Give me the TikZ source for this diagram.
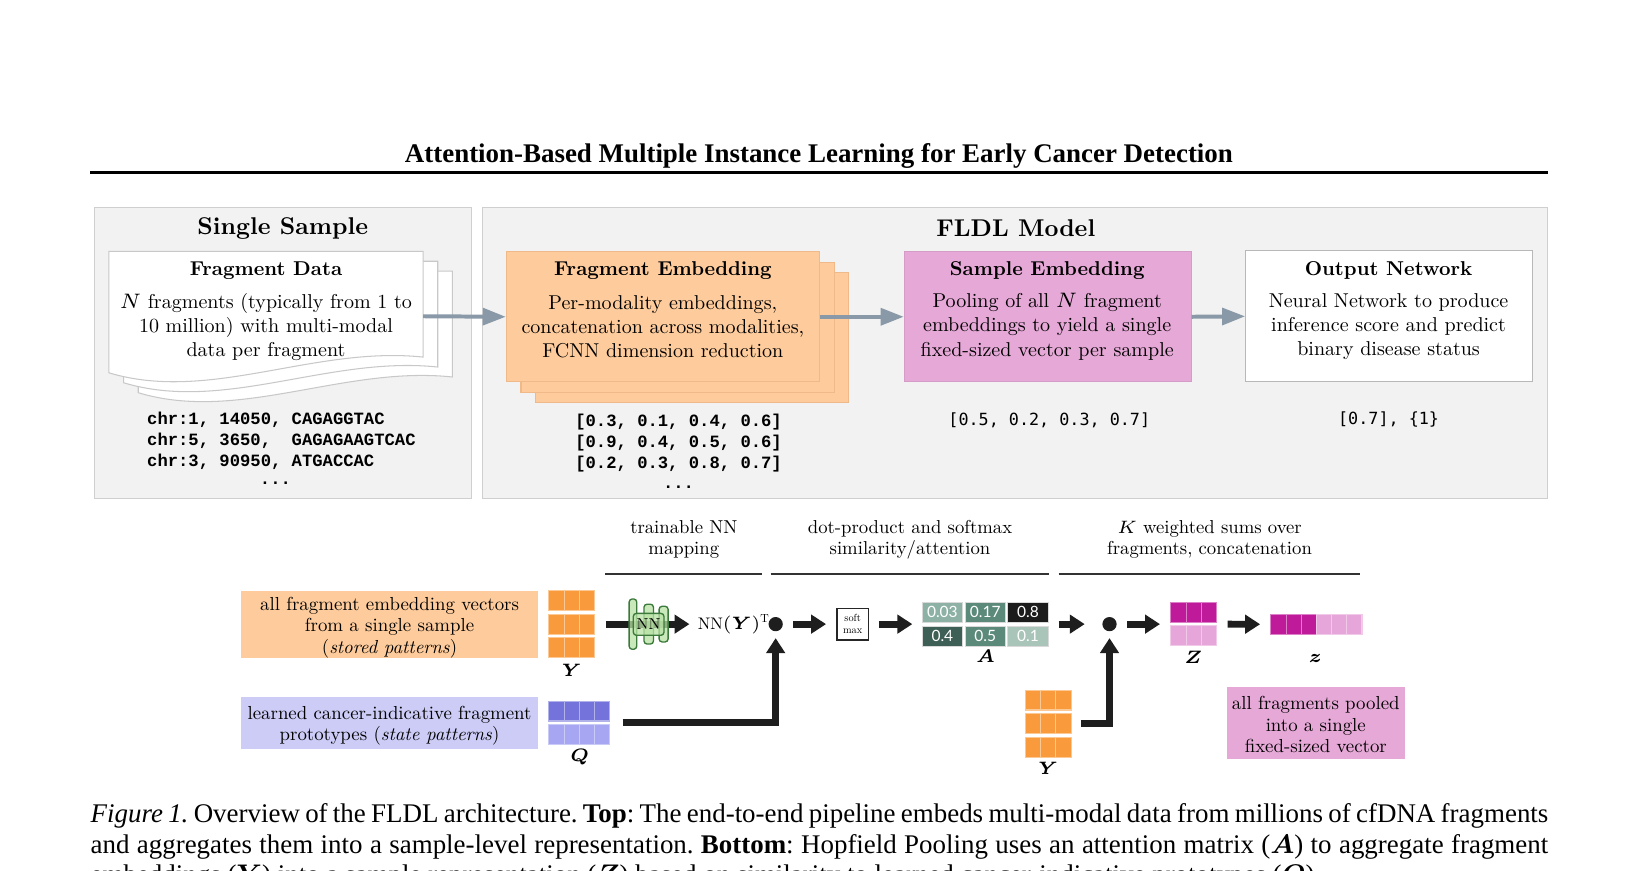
\documentclass[tikz,border=0pt]{standalone}
\usepackage{amsmath}
\usepackage{fontspec}
\usepackage{xcolor}
\usetikzlibrary{arrows.meta}

\setmainfont{lmroman10-regular.otf}[BoldFont=lmroman10-bold.otf, ItalicFont=lmroman10-italic.otf,
  BoldItalicFont=lmroman10-bolditalic.otf]
\newfontfamily\capfont{Liberation Serif}
\newfontfamily\chrfont{Liberation Mono}
\newfontfamily\vecfont{DejaVu Sans Mono}
\newfontfamily\numfont{Lato}

\definecolor{panelfill}{HTML}{F2F2F2}
\definecolor{panelline}{HTML}{CFCFCF}
\definecolor{pageline}{HTML}{C8C8C8}
\definecolor{embfill}{HTML}{FECC9C}
\definecolor{embline}{HTML}{F0B98A}
\definecolor{poolfill}{HTML}{E6A8D7}
\definecolor{poolline}{HTML}{D49CC7}
\definecolor{netline}{HTML}{B8B8B8}
\definecolor{lavfill}{HTML}{CCCCF7}
\definecolor{ycol}{HTML}{F99B3C}
\definecolor{qdark}{HTML}{7373DB}
\definecolor{qlight}{HTML}{A6A6F2}
\definecolor{zdark}{HTML}{BF1A99}
\definecolor{zlight}{HTML}{E6A6D9}
\definecolor{nngreen}{HTML}{B8E2A5}
\definecolor{nnline}{HTML}{3C7A3C}
\definecolor{arrowgray}{HTML}{8A99A8}
\definecolor{flowblack}{HTML}{1E1E1E}
\definecolor{attA}{HTML}{8DB2A5}
\definecolor{attB}{HTML}{5B897A}
\definecolor{attC}{HTML}{1C1C1C}
\definecolor{attD}{HTML}{3E5F55}
\definecolor{attE}{HTML}{A9C4B9}

\tikzset{
  panel/.style={draw=panelline, fill=panelfill, line width=0.4pt},
  paneltitle/.style={font=\fontsize{8.1}{9.7}\selectfont\bfseries, inner sep=0pt},
  page/.style={draw=pageline, fill=white, line width=0.35pt},
  embbox/.style={draw=embline, fill=embfill, line width=0.35pt, anchor=north west,
    minimum width=104.65pt, minimum height=43.4pt, inner sep=0pt},
  poolbox/.style={draw=poolline, fill=poolfill, line width=0.35pt, anchor=north west,
    minimum width=95.9pt, minimum height=43.4pt, inner sep=0pt},
  netbox/.style={draw=netline, fill=white, line width=0.4pt, anchor=north west,
    minimum width=95.9pt, minimum height=43.75pt, inner sep=0pt},
  boxtitle/.style={font=\fontsize{6.7}{8}\selectfont\bfseries, inner sep=0pt},
  boxtext/.style={font=\fontsize{6.7}{8.05}\selectfont, align=center, inner sep=0pt},
  chrtext/.style={font=\chrfont\bfseries\fontsize{5.75}{7}\selectfont, inner sep=0pt},
  vectext/.style={font=\vecfont\fontsize{5.6}{7}\selectfont, inner sep=0pt},
  greyarrow/.style={draw=arrowgray, line width=1.33pt, -{Triangle[length=7.7pt,width=5.6pt]}},
  headtext/.style={font=\fontsize{6.25}{7}\selectfont, align=center, inner sep=0pt},
  headrule/.style={draw=black!80, line width=0.5pt},
  labelbox/.style={inner sep=0pt, minimum width=99.4pt},
  labeltext/.style={font=\fontsize{6.3}{7.2}\selectfont, align=center, inner sep=0pt},
  matname/.style={font=\fontsize{6.3}{7}\selectfont, inner sep=0pt},
  matbox/.style={inner sep=0pt},
  ycell/.style={fill=ycol, draw=ycol!55!white, line width=0.35pt},
  qdcell/.style={fill=qdark, draw=qdark!55!white, line width=0.35pt},
  qlcell/.style={fill=qlight, draw=qlight!60!white, line width=0.35pt},
  zdcell/.style={fill=zdark, draw=zdark!55!white, line width=0.35pt},
  zlcell/.style={fill=zlight, draw=zlight!60!white, line width=0.35pt},
  attcell/.style={draw=white!85!black, line width=0.3pt},
  numtext/.style={font=\numfont\fontsize{5.2}{6}\selectfont, text=white, inner sep=0pt},
  flow/.style={draw=flowblack, line width=2.3pt, -{Triangle[length=5pt,width=6.1pt]}},
  joint/.style={circle, fill=flowblack, minimum size=4.76pt, inner sep=0pt},
  nnbar/.style={fill=nngreen, fill opacity=0.75, draw=nnline, line width=0.45pt, rounded corners=1pt},
  nnbox/.style={fill=nngreen, fill opacity=0.75, text opacity=1, draw=nnline, line width=0.45pt,
    rounded corners=1pt, minimum width=10.25pt, minimum height=7.3pt, inner sep=0pt,
    font=\fontsize{5.3}{6}\selectfont},
  softbox/.style={draw=black!85, line width=0.55pt, fill=white, minimum width=10.6pt, minimum height=10.5pt,
    inner sep=0pt, align=center, font=\fontsize{3.45}{4.1}\selectfont},
  captext/.style={font=\capfont\fontsize{9}{10.15}\selectfont\frenchspacing, text width=487.2pt,
    align=justify, inner sep=0pt}
}

\begin{document}
\begin{tikzpicture}[x=0.35pt,y=-0.35pt]
    \path[fill=white,use as bounding box] (0,0) rectangle (1568,831.7);

    % Running head
    \node[font=\capfont\bfseries\fontsize{9}{11}\selectfont, anchor=base, inner sep=0pt] (head) at (782,155)
      {Attention-Based Multiple Instance Learning for Early Cancer Detection};
    \draw[line width=0.9pt] (86,164.5) -- (1478,164.5);

    % Panels
    \draw[panel] (90,198) rectangle (450,476);
    \draw[panel] (461,198) rectangle (1478,476);
    \node[paneltitle] (single) at (270,218) {Single Sample};
    \node[paneltitle] (fldl) at (970,218) {FLDL Model};

    % Fragment data (stack of pages)
    \foreach \d in {2,1} {
      \draw[page, shift={(14*\d,9.5*\d)}] (104,240) -- (404,240) -- (404,341)
        .. controls (300,330) and (200,385) .. (104,356) -- cycle;
    }
    \draw[page] (104,240) -- (404,240) -- (404,341)
      .. controls (300,330) and (200,385) .. (104,356) -- cycle;
    \coordinate (fdout) at (404,302);
    \node[boxtitle] (fdtitle) at (254,258) {Fragment Data};
    \node[boxtext] (fdtext) at (254,312)
      {$N$ fragments (typically from 1 to\\10 million) with multi-modal\\data per fragment};

    % Fragment embedding (stack of boxes)
    \node[embbox] (fe3) at (511,260) {};
    \node[embbox] (fe2) at (497,250) {};
    \node[embbox] (fe) at (483,240) {};
    \node[boxtitle] (fetitle) at (633,258) {Fragment Embedding};
    \node[boxtext] (fetext) at (633,312)
      {Per-modality embeddings,\\concatenation across modalities,\\FCNN dimension reduction};

    % Sample embedding and output network
    \node[poolbox] (se) at (863,240) {};
    \node[boxtitle] (setitle) at (1000,258) {Sample Embedding};
    \node[boxtext] (setext) at (1000,312)
      {Pooling of all $N$ fragment\\embeddings to yield a single\\fixed-sized vector per sample};
    \node[netbox] (on) at (1189,239) {};
    \node[boxtitle] (ontitle) at (1326,258) {Output Network};
    \node[boxtext] (ontext) at (1326,312)
      {Neural Network to produce\\inference score and predict\\binary disease status};

    % Top arrows
    \draw[greyarrow] (fdout) -- (fe.west);
    \draw[greyarrow] (fe.east) -- (se.west);
    \draw[greyarrow] (se.east) -- (on.west);

    % Example data
    \node[chrtext, anchor=west, align=left] (chr) at (140,421)
      {chr:1, 14050, CAGAGGTAC\\chr:5, 3650,\ \ GAGAGAAGTCAC\\chr:3, 90950, ATGACCAC};
    \node[chrtext] (chrdots) at (263,461) {...};
    \node[chrtext, align=center] (emb) at (648,431)
      {{[}0.3, 0.1, 0.4, 0.6{]}\\{[}0.9, 0.4, 0.5, 0.6{]}\\{[}0.2, 0.3, 0.8, 0.7{]}\\...};
    \node[vectext] (pool) at (1002,401) {{[}0.5, 0.2, 0.3, 0.7{]}};
    \node[vectext] (score) at (1326,401) {{[}0.7{]}, \{1\}};

    % Step headings
    \node[headtext] (h1) at (653,515) {trainable NN\\mapping};
    \node[headtext] (h2) at (869,515) {dot-product and softmax\\similarity/attention};
    \node[headtext] (h3) at (1155,515) {$K$ weighted sums over\\fragments, concatenation};
    \draw[headrule] (578,548) -- (728,548);
    \draw[headrule] (736,548) -- (1002,548);
    \draw[headrule] (1011,548) -- (1299,548);

    % Input descriptions
    \node[labelbox, fill=embfill, minimum height=22.4pt] (ylab) at (372,596) {};
    \node[labeltext] (ylabtext) at (372,599)
      {all fragment embedding vectors\\from a single sample\\(\textit{stored patterns})};
    \node[labelbox, fill=lavfill, minimum height=17.15pt] (qlab) at (372,690.5) {};
    \node[labeltext] (qlabtext) at (372,693)
      {learned cancer-indicative fragment\\prototypes (\textit{state patterns})};

    % Y and Q
    \node[matbox, minimum width=15.4pt, minimum height=22.4pt] (ymat) at (546,596) {};
    \foreach \r in {0,1,2}
      \foreach \c in {0,1,2}
        \draw[ycell] ({524+14.6*\c},{564+22.5*\r}) rectangle ++(14.6,19);
    \node[matname] (yname) at (546,640) {$\boldsymbol{Y}$};
    \node[matbox, minimum width=20.65pt, minimum height=14.4pt] (qmat) at (553.5,690) {};
    \foreach \c in {0,...,3} {
      \draw[qdcell] ({524+14.6*\c},669.5) rectangle ++(14.6,19);
      \draw[qlcell] ({524+14.6*\c},691.7) rectangle ++(14.6,19);
    }
    \node[matname] (qname) at (553.5,722.7) {$\boldsymbol{Q}$};

    % NN mapping
    \node[inner sep=2.6pt, font=\fontsize{5.6}{6}\selectfont] (nny) at (701,596)
      {$\mathrm{NN}(\boldsymbol{Y})^{\mathrm{T}}$};
    \draw[flow, shorten <=3.5pt] (ymat.east) -- (nny.west);
    \draw[nnbar] (600.8,572) rectangle (608,620);
    \draw[nnbar] (615,577) rectangle (624,615);
    \draw[nnbar] (629.4,579) rectangle (638,613);
    \node[nnbox] (nn) at (619.4,596.2) {NN};

    % Attention
    \node[joint] (dot1) at (740.7,596) {};
    \node[softbox] (soft) at (814.2,596) {soft\\max};
    \node[matbox, minimum width=42.1pt, minimum height=14.7pt] (amat) at (940.8,596) {};
    \foreach \c/\v/\col in {0/0.03/attA, 1/0.17/attB, 2/0.8/attC} {
      \draw[attcell, fill=\col] ({880.6+40.9*\c},575) rectangle ++(38.6,19);
      \node[numtext] at ({899.9+40.9*\c},584.5) {\v};
    }
    \foreach \c/\v/\col in {0/0.4/attD, 1/0.5/attB, 2/0.1/attE} {
      \draw[attcell, fill=\col] ({880.6+40.9*\c},598) rectangle ++(38.6,19);
      \node[numtext] at ({899.9+40.9*\c},607.5) {\v};
    }
    \node[matname] (aname) at (941,627) {$\boldsymbol{A}$};
    \draw[flow, shorten >=2.1pt] (qmat.east) ++(11,0) -| (dot1);
    \draw[flow, shorten <=3.3pt, shorten >=3.3pt] (dot1) -- (soft);
    \draw[flow, shorten <=3.2pt, shorten >=3.1pt] (soft) -- (amat);

    % Weighted sums
    \node[joint] (dot2) at (1059.5,596) {};
    \node[matbox, minimum width=15.3pt, minimum height=22.05pt] (ymat2) at (1000.8,690.5) {};
    \foreach \r in {0,1,2}
      \foreach \c in {0,1,2}
        \draw[ycell] ({979+14.6*\c},{659+22.5*\r}) rectangle ++(14.6,19);
    \node[matname] (yname2) at (1001,734) {$\boldsymbol{Y}$};
    \node[matbox, minimum width=15.4pt, minimum height=14.7pt] (zmat) at (1140,596) {};
    \foreach \c in {0,1,2} {
      \draw[zdcell] ({1118+14.6*\c},575) rectangle ++(14.6,19);
      \draw[zlcell] ({1118+14.6*\c},597.5) rectangle ++(14.6,19);
    }
    \node[matname] (zname) at (1139.6,628) {$\boldsymbol{Z}$};
    \node[matbox, minimum width=30.45pt, minimum height=6.7pt] (zvec) at (1257.1,596.2) {};
    \foreach \c in {0,1,2}
      \draw[zdcell] ({1213.6+14.5*\c},586.7) rectangle ++(14.5,19);
    \foreach \c in {3,4,5}
      \draw[zlcell] ({1213.6+14.5*\c},586.7) rectangle ++(14.5,19);
    \node[matname] (zvname) at (1256,629) {$\boldsymbol{z}$};
    \draw[flow, shorten <=3.3pt, shorten >=5.7pt] (amat) -- (dot2);
    \draw[flow, shorten >=2.1pt] (ymat2.east) ++(9,0) -| (dot2);
    \draw[flow, shorten <=3.4pt, shorten >=3.4pt] (dot2) -- (zmat);
    \draw[flow, shorten <=3.4pt, shorten >=3.4pt] (zmat) -- (zvec);
    \node[labelbox, fill=poolfill, minimum width=59.4pt, minimum height=24.3pt] (zlab) at (1256.5,690.5) {};
    \node[labeltext] (zlabtext) at (1256.5,692)
      {all fragments pooled\\into a single\\fixed-sized vector};

    % Caption
    \node[captext, anchor=north west] (cap) at (86,767)
      {\textit{Figure 1.} Overview of the FLDL architecture. \textbf{Top}: The end-to-end pipeline embeds multi-modal data from millions of cfDNA fragments\linebreak
       and aggregates them into a sample-level representation. \textbf{Bottom}: Hopfield Pooling uses an attention matrix ($\boldsymbol{A}$) to aggregate fragment\linebreak
       embeddings ($\boldsymbol{Y}$) into a sample representation ($\boldsymbol{Z}$) based on similarity to learned cancer-indicative prototypes ($\boldsymbol{Q}$).};
\end{tikzpicture}
\end{document}
